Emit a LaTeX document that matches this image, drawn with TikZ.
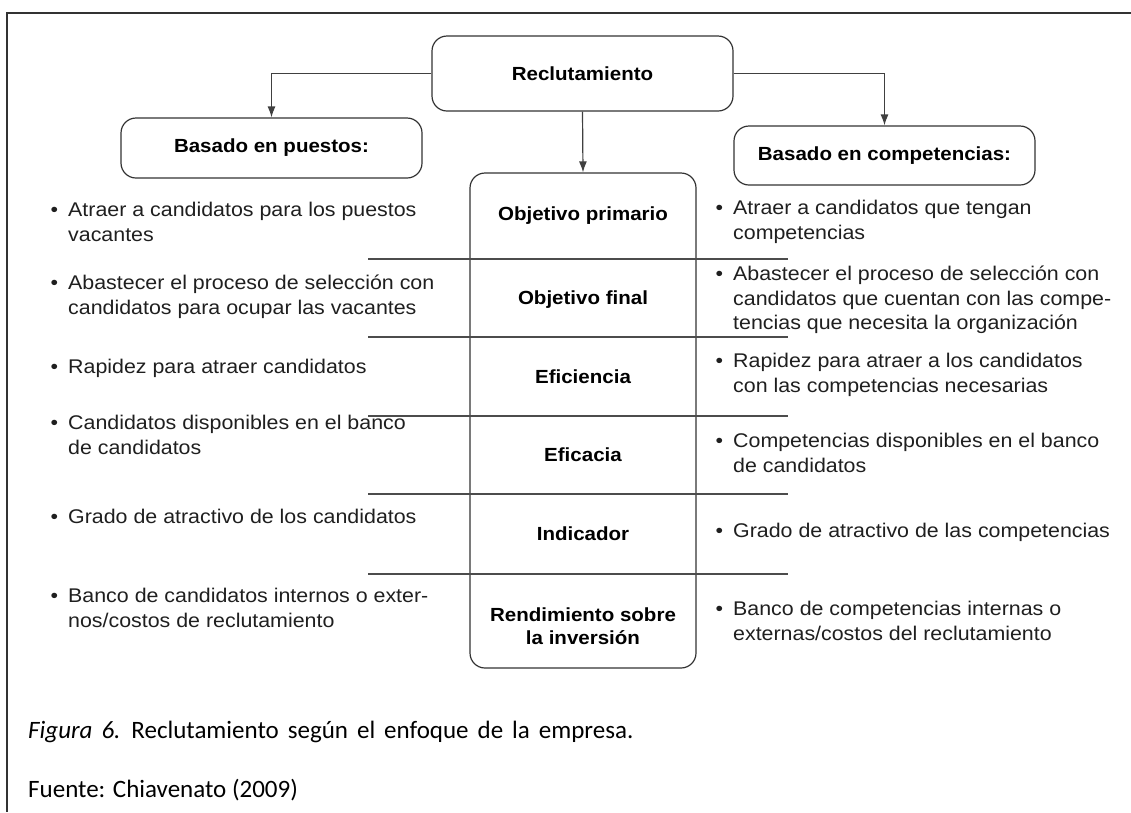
\documentclass[tikz,border=0pt]{standalone}
\usepackage{fontspec}
\setmainfont{Liberation Sans}[FakeStretch=1.08]
\newfontfamily\capfont{Carlito}
\usetikzlibrary{arrows.meta}
\newcommand\txtsize{\fontsize{19.8}{24.5}\selectfont}
\newcommand\lblsize{\fontsize{19}{23.5}\selectfont}
\newcommand\capsize{\fontsize{25}{30}\selectfont}
\newcommand\bul{\llap{\textbullet\hskip 10pt}}

\begin{document}
\begin{tikzpicture}[x=1pt, y=-1pt,
    rbox/.style={draw=black!80, line width=1.2pt, rounded corners=15pt, font=\lblsize\bfseries, inner sep=0pt},
    lbl/.style={align=center, font=\lblsize\bfseries, inner sep=0pt},
    item/.style={anchor=west, align=left, font=\txtsize, inner sep=0pt, text=black!88},
    capt/.style={anchor=base west, inner sep=0pt, font=\capfont\capsize},
    sep/.style={draw=black!70, line width=1.3pt},
    arr/.style={draw=black!75, line width=1.2pt, -{Latex[length=11pt,width=8pt]}}]
  \useasboundingbox (0,0) rectangle (1131,812);
  % frame
  \draw[black!80, line width=1.4pt] (1131,13) -- (7,13) -- (7,812);

  % boxes
  \node[rbox, minimum width=301pt, minimum height=75pt] (recl) at (582.5,73.5) {Reclutamiento};
  \node[rbox, minimum width=301pt, minimum height=60pt] (puestos) at (271.5,148) {Basado en puestos:};
  \node[rbox, minimum width=301pt, minimum height=59pt] (compet) at (884.5,155.5) {Basado en competencias:};
  \node[rbox, minimum width=226pt, minimum height=495pt] (col) at (583,420.5) {};

  \draw[arr] (recl.west) -| (puestos.north);
  \draw[arr] (recl.east) -| (compet.north);
  \draw[arr] (recl.south) -- (col.north);

  \foreach \y in {259,337,416,494,574}
    \draw[sep] (368,\y) -- (788,\y);

  % column labels
  \node[lbl] (obprim) at (583,216) {Objetivo primario};
  \node[lbl] (obfin) at (583,300) {Objetivo final};
  \node[lbl] (efcia) at (583,377) {Eficiencia};
  \node[lbl] (efcac) at (583,455) {Eficacia};
  \node[lbl] (indic) at (583,534) {Indicador};
  \node[lbl] (rend) at (583,626) {Rendimiento sobre\\la inversión};

  % left column
  \node[item] (p1) at (68,222) {\bul Atraer a candidatos para los puestos\\vacantes};
  \node[item] (p2) at (68,297) {\bul Abastecer el proceso de selección con\\candidatos para ocupar las vacantes};
  \node[item] (p3) at (68,368) {\bul Rapidez para atraer candidatos};
  \node[item] (p4) at (68,435) {\bul Candidatos disponibles en el banco\\de candidatos};
  \node[item] (p5) at (68,516) {\bul Grado de atractivo de los candidatos};
  \node[item] (p6) at (68,608) {\bul Banco de candidatos internos o exter-\\nos/costos de reclutamiento};

  % right column
  \node[item] (c1) at (733,222) {\bul Atraer a candidatos que tengan\\competencias};
  \node[item] (c2) at (733,300) {\bul Abastecer el proceso de selección con\\candidatos que cuentan con las compe-\\tencias que necesita la organización};
  \node[item] (c3) at (733,375) {\bul Rapidez para atraer a los candidatos\\con las competencias necesarias};
  \node[item] (c4) at (733,453) {\bul Competencias disponibles en el banco\\de candidatos};
  \node[item] (c5) at (733,532) {\bul Grado de atractivo de las competencias};
  \node[item] (c6) at (733,621) {\bul Banco de competencias internas o\\externas/costos del reclutamiento};

  % caption
  \node[capt] (cap) at (28,738) {\spaceskip=9pt\relax\textit{Figura 6.} Reclutamiento según el enfoque de la empresa.};
  \node[capt] (src) at (28,797) {Fuente: Chiavenato (2009)};
\end{tikzpicture}
\end{document}
